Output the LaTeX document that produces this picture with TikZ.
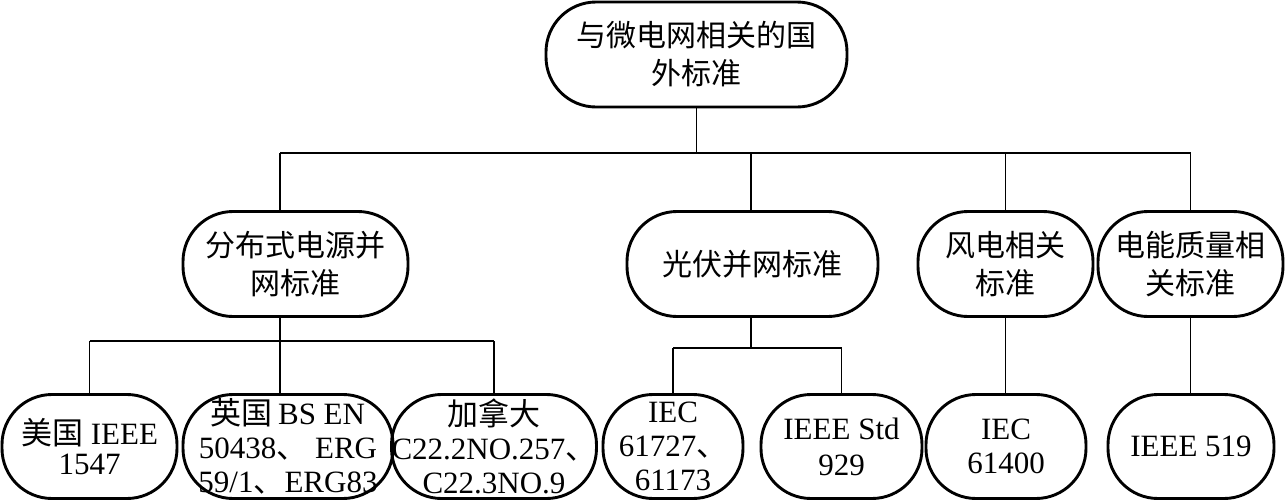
\documentclass[tikz,border=0pt]{standalone}
\usepackage{fontspec}
\setmainfont{Liberation Serif}
\newfontfamily\cjk{Noto Sans CJK SC}
\begin{document}
\begin{tikzpicture}[x=1pt,y=-1pt,
  box/.style={draw,line width=2.9pt,rounded corners=50pt,inner sep=0pt,align=center,minimum height=105pt},
  big/.style={font=\fontsize{30}{38}\selectfont\cjk},
  small/.style={font=\fontsize{31}{34}\selectfont},
  link/.style={line width=1.8pt}]
\useasboundingbox (0,0) rectangle (1286,501);
% level 1
\node[box,big,minimum width=301pt] (top) at (696.5,54.5) {与微电网相关的国\\外标准};
% level 2
\node[box,big,minimum width=225pt] (dg) at (295.5,264) {分布式电源并\\网标准};
\node[box,big,minimum width=251pt] (pv) at (752.5,264) {光伏并网标准};
\node[box,big,minimum width=175pt] (wind) at (1005.5,264) {风电相关\\标准};
\node[box,big,minimum width=185pt] (pq) at (1190.5,264) {电能质量相\\关标准};
% level 3
\node[box,small,minimum width=175pt,minimum height=104pt] (us) at (89.5,446.5) {{\cjk 美国} IEEE\\[-4pt]1547};
\node[box,small,minimum width=210pt,minimum height=104pt] (uk) at (288,446.5) {{\cjk 英国}\,BS EN\\50438{\cjk 、} ERG\\59/1{\cjk 、}ERG83};
\node[box,small,minimum width=198pt,minimum height=104pt] (ca) at (494,446.5) {{\cjk 加拿大}\\C22.2NO.257{\cjk 、}\\C22.3NO.9};
\node[box,small,minimum width=140pt,minimum height=104pt] (iec1) at (673,446.5) {IEC\\61727{\cjk 、}\\61173};
\node[box,small,minimum width=161pt,minimum height=104pt] (ieee929) at (841.5,446.5) {IEEE Std\\[2pt]929};
\node[box,small,minimum width=160pt,minimum height=104pt] (iec2) at (1006,446.5) {IEC\\61400};
\node[box,small,minimum width=166pt,minimum height=104pt] (ieee519) at (1191,446.5) {IEEE 519};
% connectors level 1 -> 2
\coordinate (busL) at (280,153);
\coordinate (busR) at (1190.5,153);
\draw[link] (top.south) -- (top.south |- busL);
\draw[link] (busL) -- (busR);
\draw[link] (busL) -- (busL |- dg.north);
\coordinate (pvt) at (751,153);
\draw[link] (pvt) -- (pvt |- pv.north);
\draw[link] (wind.north |- busL) -- (wind.north);
\draw[link] (busR) -- (busR |- pq.north);
% dg -> level 3
\coordinate (dgb) at (280,341);
\draw[link] (dgb |- dg.south) -- (dgb);
\draw[link] (us.north |- dgb) -- (ca.north |- dgb);
\draw[link] (us.north |- dgb) -- (us.north);
\draw[link] (dgb) -- (dgb |- uk.north);
\draw[link] (ca.north |- dgb) -- (ca.north);
% pv -> level 3
\coordinate (pvb) at (751,348);
\draw[link] (pvb |- pv.south) -- (pvb);
\draw[link] (iec1.north |- pvb) -- (ieee929.north |- pvb);
\draw[link] (iec1.north |- pvb) -- (iec1.north);
\draw[link] (ieee929.north |- pvb) -- (ieee929.north);
% wind, pq -> level 3
\draw[link] (wind.south) -- (wind.south |- iec2.north);
\draw[link] (pq.south) -- (pq.south |- ieee519.north);
\end{tikzpicture}
\end{document}
